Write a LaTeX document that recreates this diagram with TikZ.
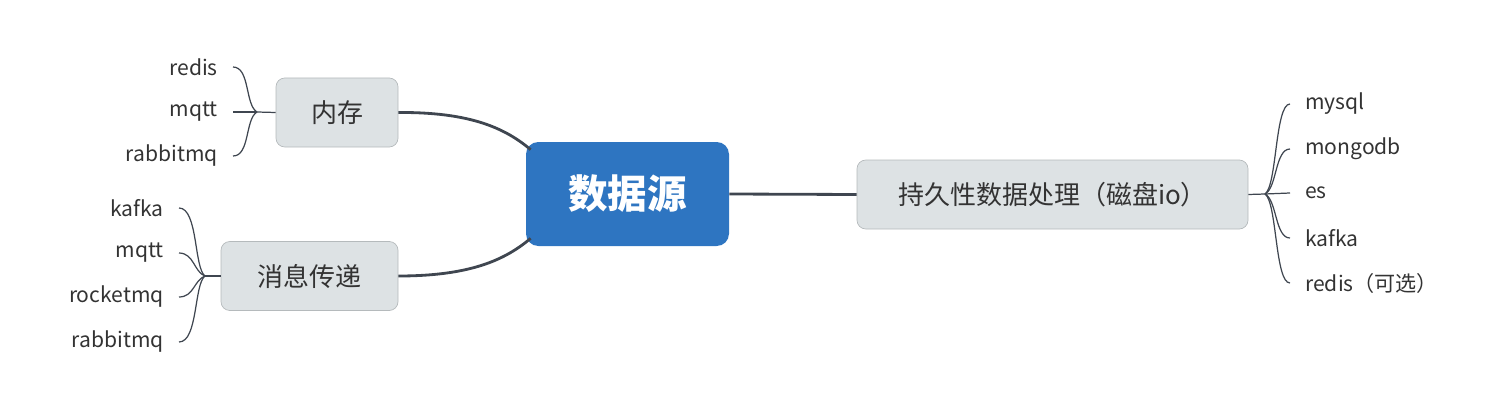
\documentclass[tikz,border=0pt]{standalone}
\usepackage{fontspec}
\setmainfont{Noto Sans CJK SC}
\usepackage{tikz}
\usetikzlibrary{positioning,calc}

\definecolor{rootblue}{HTML}{2E75C1}
\definecolor{topicgray}{HTML}{DDE2E4}
\definecolor{topicline}{HTML}{B5BABC}
\definecolor{linkgray}{HTML}{3F4650}
\definecolor{textgray}{HTML}{333333}

\tikzset{
  root/.style = {draw=none, fill=rootblue, rounded corners=7pt, text=white,
                 font=\fontsize{22.5}{26}\selectfont\bfseries,
                 minimum width=203*0.02cm, minimum height=104*0.02cm},
  topic/.style = {draw=topicline, fill=topicgray, rounded corners=5pt, text=textgray,
                  font=\fontsize{14.8}{17}\selectfont, minimum height=69*0.02cm,
                  inner xsep=0pt},
  leaf/.style = {text=textgray, font=\fontsize{12}{14}\selectfont, inner xsep=8.5pt, inner ysep=2pt},
  mainlink/.style = {draw=linkgray, line width=1.6pt},
  leaflink/.style = {draw=linkgray, line width=0.7pt}
}

\begin{document}
\begin{tikzpicture}[x=0.02cm, y=-0.02cm]
	\useasboundingbox (0,0) rectangle (1504,412);
	% centre and main topics
	\node [root] (src) at (627.5,194) {数据源};
	\node [topic, minimum width=122*0.02cm] (mem) at (337,112.5) {内存};
	\node [topic, minimum width=177*0.02cm] (msg) at (309.5,276) {消息传递};
	\node [topic, minimum width=391*0.02cm] (disk) at (1052.5,194.5) {持久性数据处理（磁盘io）};

	\draw [mainlink] (mem.east) .. controls (470,112) and (505,128) .. ($(src.north west)+(5,8)$);
	\draw [mainlink] (msg.east) .. controls (470,276) and (505,260) .. ($(src.south west)+(5,-8)$);
	\draw [mainlink] (src.east) -- (disk.west);

	% memory leaves
	\coordinate (jmem) at (257,112);
	\node [leaf, anchor=east] (m1) at (233,67) {redis};
	\node [leaf, anchor=east] (m2) at (233,112) {mqtt};
	\node [leaf, anchor=east] (m3) at (233,156) {rabbitmq};
	\draw [leaflink] (mem.west) -- (jmem);
	\draw [leaflink] (jmem) .. controls (245,105) and (250,67) .. (m1.east);
	\draw [leaflink] (jmem) -- (m2.east);
	\draw [leaflink] (jmem) .. controls (245,119) and (250,156) .. (m3.east);

	% message leaves
	\coordinate (jmsg) at (205,276);
	\node [leaf, anchor=east] (q1) at (179,208) {kafka};
	\node [leaf, anchor=east] (q2) at (179,253) {mqtt};
	\node [leaf, anchor=east] (q3) at (179,297) {rocketmq};
	\node [leaf, anchor=east] (q4) at (179,342) {rabbitmq};
	\draw [leaflink] (msg.west) -- (jmsg);
	\draw [leaflink] (jmsg) .. controls (194,268) and (198,208) .. (q1.east);
	\draw [leaflink] (jmsg) .. controls (194,272) and (194,253) .. (q2.east);
	\draw [leaflink] (jmsg) .. controls (194,280) and (194,297) .. (q3.east);
	\draw [leaflink] (jmsg) .. controls (194,284) and (198,342) .. (q4.east);

	% disk leaves
	\coordinate (jdisk) at (1265,194);
	\node [leaf, anchor=west] (d1) at (1290,104) {mysql};
	\node [leaf, anchor=west] (d2) at (1290,149) {mongodb};
	\node [leaf, anchor=west] (d3) at (1290,193) {es};
	\node [leaf, anchor=west] (d4) at (1290,238) {kafka};
	\node [leaf, anchor=west] (d5) at (1290,283) {redis（可选）};
	\draw [leaflink] (disk.east) -- (jdisk);
	\draw [leaflink] (jdisk) .. controls (1277,186) and (1275,104) .. (d1.west);
	\draw [leaflink] (jdisk) .. controls (1277,188) and (1275,149) .. (d2.west);
	\draw [leaflink] (jdisk) -- (d3.west);
	\draw [leaflink] (jdisk) .. controls (1277,200) and (1275,238) .. (d4.west);
	\draw [leaflink] (jdisk) .. controls (1277,202) and (1275,283) .. (d5.west);
\end{tikzpicture}
\end{document}
